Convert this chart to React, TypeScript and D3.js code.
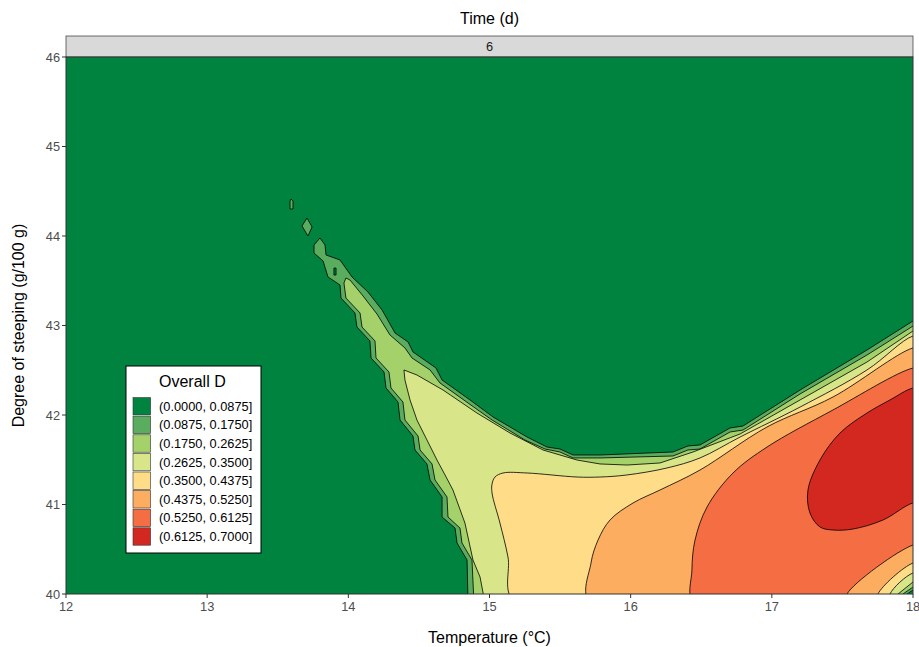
import React from "react";
import * as d3 from "d3";

// Filled contour bands of overall desirability D, day 6 of steeping.
// Each region below is the set where D exceeds a band threshold,
// outlined as (temperature °C, degree of steeping g/100 g) vertices.

type Pt = [number, number];

const bandLabels = [
  "(0.0000, 0.0875]",
  "(0.0875, 0.1750]",
  "(0.1750, 0.2625]",
  "(0.2625, 0.3500]",
  "(0.3500, 0.4375]",
  "(0.4375, 0.5250]",
  "(0.5250, 0.6125]",
  "(0.6125, 0.7000]",
];

const bandColors = [
  "#00833f",
  "#5aad5f",
  "#a5d16a",
  "#d9e589",
  "#fedc88",
  "#fcad60",
  "#f46d43",
  "#d3281f",
];

const xTicks = [12, 13, 14, 15, 16, 17, 18];
const yTicks = [40, 41, 42, 43, 44, 45, 46];
const facetLabel = "6";

// D > 0.0875 : main ridge
const above0875: Pt[] = [
  [13.799, 43.978], [13.757, 43.899], [13.757, 43.81], [13.821, 43.721],
  [13.856, 43.542], [13.941, 43.453], [13.948, 43.307], [14.047, 43.14],
  [14.061, 42.983], [14.153, 42.827], [14.161, 42.637], [14.253, 42.48],
  [14.267, 42.302], [14.352, 42.145], [14.366, 41.944], [14.458, 41.765],
  [14.472, 41.609], [14.557, 41.453], [14.579, 41.274], [14.664, 41.084],
  [14.664, 40.86], [14.756, 40.737], [14.77, 40.57], [14.841, 40.38],
  [14.848, 39.9], [17.958, 39.9], [17.958, 40.0], [18.0, 40.045],
  [18.1, 40.045], [18.1, 43.05], [18.0, 43.05],
  [17.674, 42.726], [17.2, 42.279], [16.796, 41.877], [16.704, 41.855],
  [16.491, 41.665], [16.406, 41.654], [16.3, 41.587], [15.783, 41.553],
  [15.592, 41.553], [15.499, 41.62], [15.407, 41.642], [15.266, 41.754],
  [15.025, 41.978], [14.862, 42.168], [14.664, 42.391], [14.621, 42.525],
  [14.458, 42.704], [14.423, 42.816], [14.331, 42.916], [14.239, 43.173],
  [14.139, 43.374], [14.026, 43.542], [13.941, 43.732], [13.842, 43.788],
  [13.835, 43.899],
];

// D > 0.0875 : small isolated patches near the ridge tip
const islandSliver: Pt[] = [
  [13.594, 44.413], [13.608, 44.391], [13.608, 44.302], [13.587, 44.302], [13.587, 44.391],
];
const islandDiamond: Pt[] = [
  [13.707, 44.201], [13.743, 44.101], [13.714, 44.0], [13.672, 44.112],
];
// D <= 0.0875 : pocket inside the ridge
const ridgePocket: Pt[] = [
  [13.898, 43.642], [13.913, 43.642], [13.913, 43.564], [13.898, 43.564],
];

// D > 0.175
const above1750: Pt[] = [
  [13.983, 43.531], [13.969, 43.475], [13.983, 43.307], [14.083, 43.14],
  [14.097, 42.983], [14.189, 42.827], [14.196, 42.637], [14.288, 42.48],
  [14.302, 42.302], [14.387, 42.145], [14.401, 41.944], [14.494, 41.765],
  [14.508, 41.609], [14.593, 41.453], [14.614, 41.274], [14.699, 41.084],
  [14.706, 40.86], [14.791, 40.737], [14.805, 40.57], [14.876, 40.38],
  [14.89, 39.9], [17.929, 39.9], [17.929, 40.0], [18.0, 40.078],
  [18.1, 40.078], [18.1, 42.994], [18.0, 42.994],
  [17.674, 42.67], [17.2, 42.235], [16.796, 41.832], [16.704, 41.81],
  [16.491, 41.62], [16.406, 41.609], [16.3, 41.542], [15.783, 41.52],
  [15.592, 41.52], [15.499, 41.587], [15.393, 41.62], [15.251, 41.721],
  [15.018, 41.944], [14.848, 42.134], [14.649, 42.358], [14.579, 42.503],
  [14.451, 42.637], [14.401, 42.749], [14.295, 42.894], [14.203, 43.128],
  [14.104, 43.33], [14.012, 43.508],
];

// D > 0.2625
const above2625: Pt[] = [
  [14.394, 42.503], [14.401, 42.391], [14.437, 42.168], [14.486, 41.944],
  [14.557, 41.721], [14.628, 41.497], [14.685, 41.33], [14.741, 41.162],
  [14.826, 40.793], [14.883, 40.38], [14.933, 40.19], [14.968, 39.9],
  [17.894, 39.9], [17.894, 40.0], [18.0, 40.134], [18.1, 40.134],
  [18.1, 42.939], [18.0, 42.939],
  [17.674, 42.592], [17.2, 42.168], [16.775, 41.788], [16.442, 41.587],
  [16.208, 41.464], [15.974, 41.441], [15.783, 41.453], [15.62, 41.497],
  [15.379, 41.609], [15.145, 41.799], [14.911, 42.022], [14.671, 42.279],
  [14.486, 42.447],
];

// D > 0.35
const above3500: Pt[] = [
  [15.096, 41.352], [15.266, 41.352], [15.62, 41.307], [15.783, 41.307],
  [15.974, 41.33], [16.257, 41.408], [16.491, 41.52], [16.775, 41.754],
  [17.2, 42.089], [17.674, 42.503], [18.0, 42.883], [18.1, 42.883],
  [18.1, 40.235], [18.0, 40.235], [17.837, 40.0], [17.837, 39.9],
  [15.181, 39.9], [15.131, 40.413], [15.074, 40.793], [15.018, 41.128],
  [15.018, 41.229], [15.039, 41.307],
];

// D > 0.4375
const above4375: Pt[] = [
  [18.1, 42.749], [18.0, 42.749], [17.433, 42.201], [16.966, 41.866],
  [16.491, 41.385], [16.208, 41.162], [16.017, 41.017], [15.854, 40.827],
  [15.769, 40.603], [15.719, 40.346], [15.712, 39.9], [17.752, 39.9],
  [17.752, 40.0], [18.0, 40.346], [18.1, 40.346],
];

// D > 0.525
const above5250: Pt[] = [
  [18.1, 42.525], [18.0, 42.525], [17.433, 42.056], [16.966, 41.642],
  [16.725, 41.352], [16.541, 40.972], [16.456, 40.603], [16.434, 40.268],
  [16.449, 39.9], [17.533, 39.9], [17.533, 40.0], [18.0, 40.547],
  [18.1, 40.547],
];

// D > 0.6125
const above6125: Pt[] = [
  [18.1, 42.302], [18.0, 42.302], [17.837, 42.168], [17.674, 42.022],
  [17.483, 41.799], [17.341, 41.497], [17.256, 41.162], [17.27, 40.905],
  [17.341, 40.749], [17.433, 40.715], [17.575, 40.726], [17.788, 40.827],
  [18.0, 41.017], [18.1, 41.017],
];

const W = 919;
const H = 647;
const M = { left: 66, right: 913, top: 57, bottom: 594 };
const FONT = "'Liberation Sans', Arial, Helvetica, sans-serif";

export default function App() {
  const x = d3.scaleLinear().domain([12, 18]).range([M.left, M.right]);
  const y = d3.scaleLinear().domain([40, 46]).range([M.bottom, M.top]);

  const linear = d3
    .line<Pt>()
    .x((d) => x(d[0]))
    .y((d) => y(d[1]))
    .curve(d3.curveLinearClosed);
  const smooth = d3
    .line<Pt>()
    .x((d) => x(d[0]))
    .y((d) => y(d[1]))
    .curve(d3.curveCatmullRomClosed.alpha(0.5));

  const layers: { pts: Pt[]; color: string; smooth: boolean }[] = [
    { pts: above0875, color: bandColors[1], smooth: false },
    { pts: islandSliver, color: bandColors[1], smooth: false },
    { pts: islandDiamond, color: bandColors[1], smooth: false },
    { pts: ridgePocket, color: bandColors[0], smooth: false },
    { pts: above1750, color: bandColors[2], smooth: false },
    { pts: above2625, color: bandColors[3], smooth: false },
    { pts: above3500, color: bandColors[4], smooth: true },
    { pts: above4375, color: bandColors[5], smooth: true },
    { pts: above5250, color: bandColors[6], smooth: true },
    { pts: above6125, color: bandColors[7], smooth: true },
  ];

  const legendX = 126;
  const legendY = 366;
  const keyTop = 397;
  const keyH = 18.6;

  return (
    <svg
      width={W}
      height={H}
      style={{ position: "absolute", left: 0, top: 0, background: "#fff" }}
      fontFamily={FONT}
    >
      <defs>
        <clipPath id="panel-clip">
          <rect x={M.left} y={M.top} width={M.right - M.left} height={M.bottom - M.top} />
        </clipPath>
      </defs>

      {/* facet title and strip */}
      <text x={(M.left + M.right) / 2} y={24} textAnchor="middle" fontSize={16} fill="#000">
        Time (d)
      </text>
      <rect x={M.left} y={36} width={M.right - M.left} height={M.top - 36} fill="#d9d9d9" stroke="#333" strokeWidth={0.7} />
      <text x={(M.left + M.right) / 2} y={46.5} textAnchor="middle" dominantBaseline="central" fontSize={12.8} fill="#1a1a1a">
        {facetLabel}
      </text>

      {/* contour bands */}
      <g clipPath="url(#panel-clip)">
        <rect x={M.left} y={M.top} width={M.right - M.left} height={M.bottom - M.top} fill={bandColors[0]} />
        {layers.map((l, i) => (
          <path
            key={i}
            d={(l.smooth ? smooth : linear)(l.pts) || ""}
            fill={l.color}
            stroke="#000"
            strokeWidth={0.8}
            strokeLinejoin="round"
          />
        ))}
      </g>
      <rect x={M.left} y={M.top} width={M.right - M.left} height={M.bottom - M.top} fill="none" stroke="#333" strokeWidth={1} />

      {/* y axis */}
      {yTicks.map((t) => (
        <g key={"y" + t}>
          <line x1={M.left - 4} x2={M.left} y1={y(t)} y2={y(t)} stroke="#333" strokeWidth={1} />
          <text x={M.left - 6} y={y(t)} textAnchor="end" dominantBaseline="central" fontSize={12.8} fill="#4d4d4d">
            {t}
          </text>
        </g>
      ))}
      {/* x axis */}
      {xTicks.map((t) => (
        <g key={"x" + t}>
          <line x1={x(t)} x2={x(t)} y1={M.bottom} y2={M.bottom + 4} stroke="#333" strokeWidth={1} />
          <text x={x(t)} y={M.bottom + 17} textAnchor="middle" fontSize={12.8} fill="#4d4d4d">
            {t}
          </text>
        </g>
      ))}

      <text x={(M.left + M.right) / 2} y={643} textAnchor="middle" fontSize={16} fill="#000">
        Temperature (°C)
      </text>
      <text transform={`translate(24, ${(M.top + M.bottom) / 2}) rotate(-90)`} textAnchor="middle" fontSize={16} fill="#000">
        Degree of steeping (g/100 g)
      </text>

      {/* legend */}
      <g>
        <rect x={legendX} y={legendY} width={135} height={187} fill="#fff" stroke="#000" strokeWidth={1} />
        <text x={159} y={387} fontSize={16} fill="#000">
          Overall D
        </text>
        {bandLabels.map((lab, i) => (
          <g key={lab}>
            <rect x={133} y={keyTop + i * keyH + 0.6} width={17.6} height={keyH - 1.2} fill={bandColors[i]} stroke="#333" strokeWidth={0.6} />
            <text x={159} y={keyTop + i * keyH + keyH / 2} dominantBaseline="central" fontSize={12.8} fill="#000">
              {lab}
            </text>
          </g>
        ))}
      </g>
    </svg>
  );
}
